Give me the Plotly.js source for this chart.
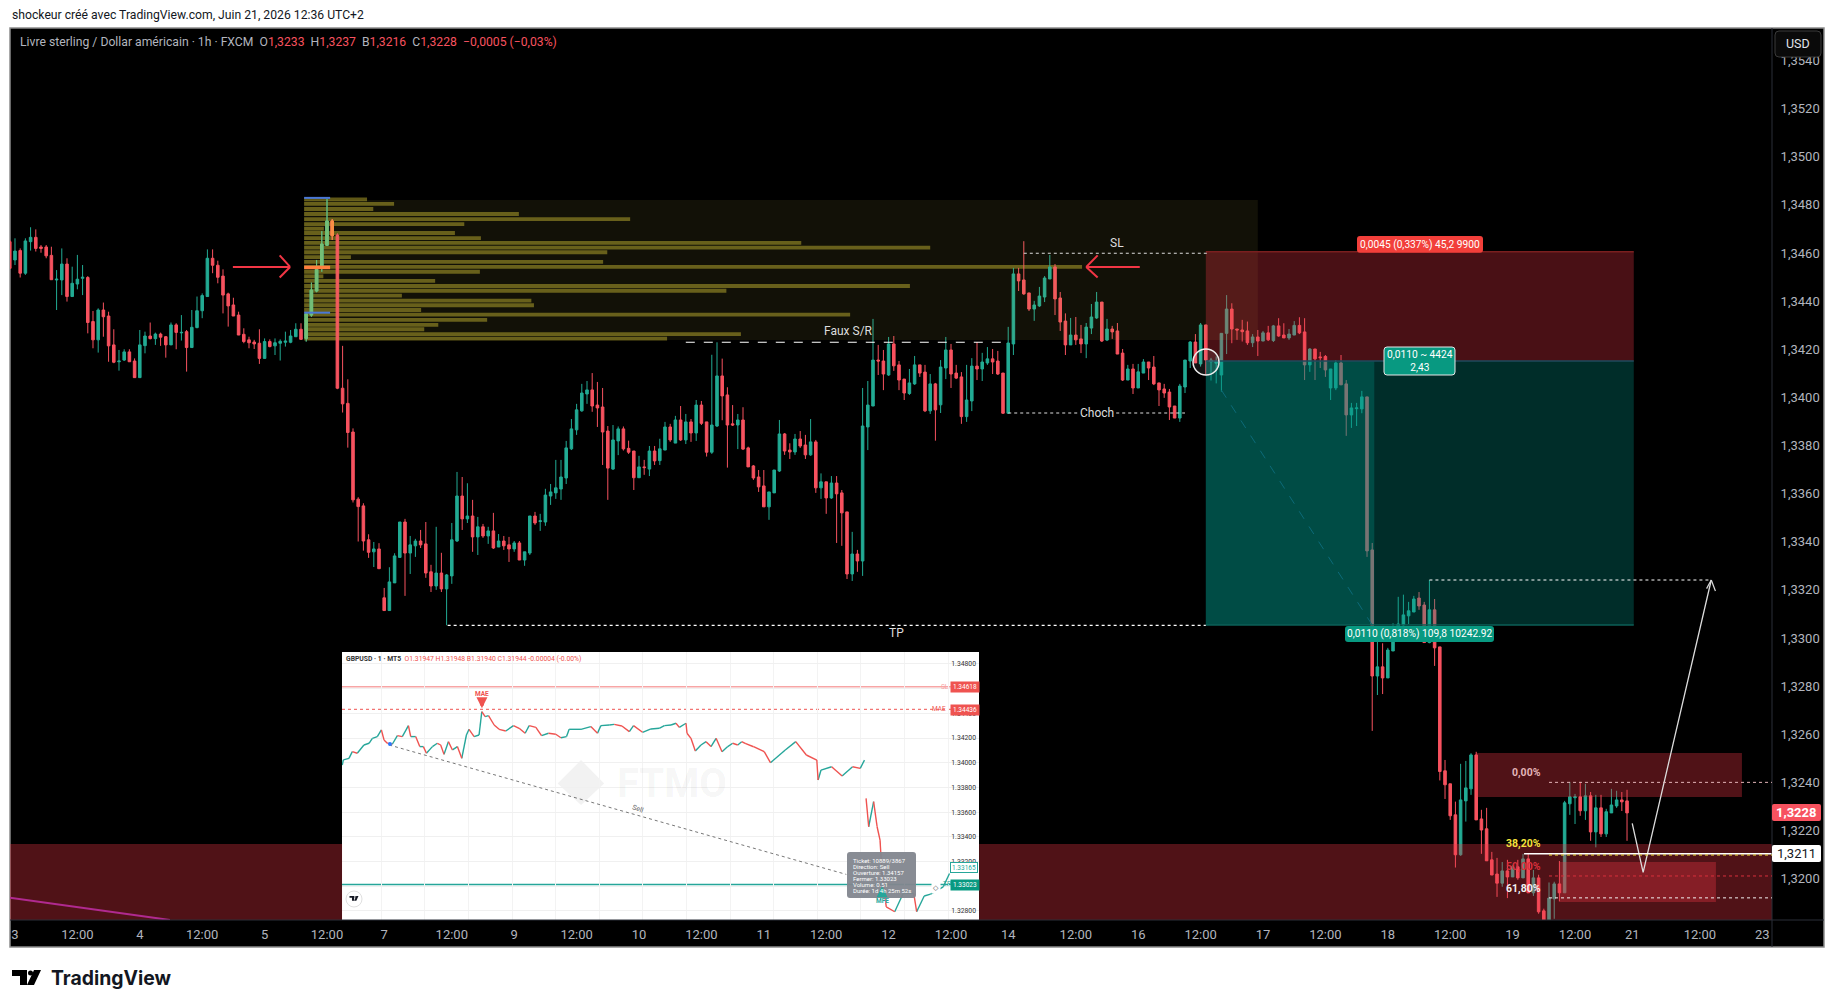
<!DOCTYPE html>
<html>
<head>
<meta charset="utf-8">
<script src="https://cdn.plot.ly/plotly-3.0.1.min.js"></script>
<style>html,body{margin:0;padding:0;background:#fff}</style>
</head>
<body>
<div id="chart" style="width:1835px;height:1008px"></div>
<script>
// GBP/USD 1h bars, [open, high, low, close]
const june3to5 = [
[1.34647,1.34654,1.34536,1.34536],[1.34571,1.34661,1.34550,1.34608],[1.34610,1.34619,1.34498,1.34516],[1.34516,1.34661,1.34509,1.34650],
[1.34647,1.34707,1.34610,1.34665],[1.34665,1.34698,1.34606,1.34619],[1.34625,1.34633,1.34601,1.34619],[1.34625,1.34633,1.34578,1.34588],
[1.34590,1.34626,1.34489,1.34489],[1.34488,1.34529,1.34363,1.34491],[1.34488,1.34619,1.34425,1.34554],[1.34554,1.34578,1.34398,1.34419],
[1.34419,1.34543,1.34419,1.34474],[1.34471,1.34592,1.34449,1.34491],[1.34495,1.34550,1.34425,1.34499],[1.34498,1.34504,1.34266,1.34311],
[1.34315,1.34359,1.34204,1.34239],[1.34239,1.34370,1.34186,1.34363],[1.34363,1.34394,1.34252,1.34335],[1.34338,1.34356,1.34148,1.34214],
[1.34218,1.34283,1.34142,1.34146],[1.34148,1.34197,1.34111,1.34151],[1.34155,1.34200,1.34151,1.34189],[1.34189,1.34200,1.34148,1.34148],
[1.34151,1.34162,1.34082,1.34082],[1.34082,1.34280,1.34082,1.34218],[1.34215,1.34273,1.34183,1.34255],[1.34255,1.34311,1.34241,1.34244],
[1.34244,1.34269,1.34218,1.34263],[1.34263,1.34269,1.34214,1.34250],[1.34252,1.34255,1.34165,1.34218],[1.34218,1.34311,1.34218,1.34301],
[1.34301,1.34308,1.34200,1.34270],[1.34268,1.34342,1.34236,1.34270],[1.34273,1.34280,1.34107,1.34207],[1.34207,1.34363,1.34207,1.34291],
[1.34290,1.34419,1.34287,1.34360],[1.34360,1.34432,1.34329,1.34423],[1.34419,1.34615,1.34419,1.34578],[1.34578,1.34615,1.34516,1.34549],
[1.34549,1.34568,1.34474,1.34499],[1.34504,1.34532,1.34349,1.34425],[1.34430,1.34435,1.34294,1.34380],[1.34384,1.34414,1.34338,1.34338],
[1.34342,1.34356,1.34259,1.34259],[1.34262,1.34287,1.34225,1.34232],[1.34239,1.34252,1.34204,1.34227],[1.34230,1.34239,1.34201,1.34222],
[1.34225,1.34283,1.34139,1.34162],[1.34162,1.34245,1.34162,1.34232],[1.34232,1.34241,1.34208,1.34211],[1.34214,1.34245,1.34176,1.34227],
[1.34225,1.34241,1.34153,1.34233],[1.34229,1.34273,1.34211,1.34234],[1.34229,1.34280,1.34225,1.34255],[1.34252,1.34308,1.34252,1.34283],
[1.34283,1.34308,1.34239,1.34241],[1.34245,1.34347,1.34232,1.34347],[1.34342,1.34477,1.34335,1.34446],[1.34442,1.34571,1.34437,1.34532],
[1.34543,1.34691,1.34522,1.34637],[1.34632,1.34824,1.34629,1.34733],[1.34733,1.34741,1.34654,1.34672],[1.34675,1.34682,1.34034,1.34038],
[1.34038,1.34214,1.33937,1.33973],[1.33975,1.34075,1.33791,1.33854],[1.33856,1.33871,1.33563,1.33574],[1.33577,1.33585,1.33401,1.33546],
[1.33549,1.33560,1.33363,1.33403],[1.33408,1.33431,1.33333,1.33356],[1.33358,1.33399,1.33295,1.33370],[1.33370,1.33394,1.33288,1.33288]
];
const june8to12 = [
[1.33167,1.33208,1.33114,1.33114],[1.33114,1.33294,1.33114,1.33233],[1.33229,1.33352,1.33229,1.33341],[1.33335,1.33482,1.33333,1.33482],
[1.33482,1.33495,1.33175,1.33353],[1.33353,1.33424,1.33266,1.33387],[1.33383,1.33412,1.33337,1.33403],[1.33403,1.33449,1.33374,1.33387],
[1.33391,1.33482,1.33250,1.33270],[1.33275,1.33304,1.33191,1.33216],[1.33216,1.33462,1.33200,1.33270],[1.33270,1.33354,1.33191,1.33204],
[1.33204,1.33266,1.33053,1.33262],[1.33258,1.33478,1.33225,1.33408],[1.33403,1.33690,1.33399,1.33590],[1.33590,1.33669,1.33449,1.33495],
[1.33495,1.33643,1.33478,1.33507],[1.33507,1.33574,1.33358,1.33420],[1.33420,1.33503,1.33345,1.33462],[1.33462,1.33474,1.33416,1.33424],
[1.33424,1.33462,1.33391,1.33445],[1.33445,1.33520,1.33370,1.33374],[1.33378,1.33432,1.33378,1.33403],[1.33403,1.33424,1.33366,1.33383],
[1.33387,1.33420,1.33316,1.33370],[1.33370,1.33403,1.33358,1.33395],[1.33395,1.33403,1.33324,1.33324],[1.33324,1.33358,1.33300,1.33358],
[1.33353,1.33507,1.33345,1.33507],[1.33507,1.33524,1.33470,1.33478],[1.33484,1.33516,1.33445,1.33487],[1.33482,1.33620,1.33466,1.33594],
[1.33590,1.33640,1.33553,1.33607],[1.33603,1.33740,1.33578,1.33624],[1.33619,1.33740,1.33574,1.33669],[1.33665,1.33819,1.33640,1.33790],
[1.33786,1.33910,1.33781,1.33869],[1.33865,1.33973,1.33844,1.33948],[1.33944,1.34056,1.33940,1.34018],[1.34014,1.34068,1.33973,1.34031],
[1.34031,1.34101,1.33940,1.33964],[1.33968,1.34064,1.33877,1.33956],[1.33960,1.34039,1.33719,1.33856],[1.33860,1.33881,1.33574,1.33706],
[1.33702,1.33885,1.33698,1.33823],[1.33819,1.33879,1.33760,1.33869],[1.33869,1.33879,1.33779,1.33786],[1.33788,1.33820,1.33765,1.33772],
[1.33777,1.33777,1.33615,1.33666],[1.33666,1.33757,1.33666,1.33711],[1.33711,1.33740,1.33678,1.33708],[1.33702,1.33798,1.33673,1.33777],
[1.33777,1.33798,1.33719,1.33736],[1.33737,1.33828,1.33719,1.33786],[1.33781,1.33898,1.33781,1.33877],[1.33877,1.33890,1.33815,1.33823],
[1.33810,1.33923,1.33810,1.33906],[1.33906,1.33964,1.33819,1.33823],[1.33823,1.33931,1.33806,1.33898],[1.33898,1.33910,1.33815,1.33852],
[1.33852,1.33989,1.33819,1.33968],[1.33968,1.33985,1.33885,1.33892],[1.33898,1.33898,1.33754,1.33772],[1.33772,1.34177,1.33765,1.33885],
[1.33881,1.34229,1.33877,1.34089],[1.34089,1.34161,1.33905,1.34006],[1.34010,1.34042,1.33708,1.33885],[1.33890,1.33968,1.33881,1.33885],
[1.33885,1.33931,1.33785,1.33906],[1.33906,1.33959,1.33781,1.33785],[1.33790,1.33795,1.33711,1.33711],[1.33715,1.33719,1.33657,1.33665],
[1.33669,1.33698,1.33607,1.33628],[1.33632,1.33698,1.33545,1.33545],[1.33545,1.33607,1.33491,1.33607],[1.33603,1.33698,1.33603,1.33698],
[1.33694,1.33906,1.33690,1.33848],[1.33848,1.33852,1.33761,1.33777],[1.33781,1.33809,1.33744,1.33773],[1.33773,1.33848,1.33761,1.33827],
[1.33827,1.33860,1.33790,1.33798],[1.33802,1.33844,1.33744,1.33761],[1.33761,1.33910,1.33757,1.33815],[1.33815,1.33823,1.33603,1.33624],
[1.33624,1.33684,1.33578,1.33649],[1.33649,1.33649,1.33516,1.33582],[1.33582,1.33673,1.33578,1.33644],[1.33644,1.33673,1.33395,1.33599],
[1.33603,1.33615,1.33383,1.33520],[1.33524,1.33524,1.33245,1.33266],[1.33266,1.33441,1.33237,1.33349],[1.33349,1.33366,1.33275,1.33320],
[1.33320,1.34039,1.33258,1.33881],[1.33877,1.34068,1.33781,1.33968],[1.33964,1.34326,1.33964,1.34155],[1.34155,1.34218,1.34093,1.34151],
[1.34151,1.34197,1.34030,1.34097],[1.34093,1.34251,1.34089,1.34222],[1.34222,1.34255,1.34110,1.34131],[1.34135,1.34151,1.34030,1.34072],
[1.34076,1.34076,1.33989,1.34018],[1.34016,1.34118,1.34010,1.34060],[1.34056,1.34172,1.34052,1.34135],[1.34135,1.34135,1.34085,1.34101],
[1.34105,1.34135,1.33939,1.33944],[1.33944,1.34097,1.33931,1.34056],[1.34056,1.34060,1.33820,1.33948],[1.33969,1.34155,1.33935,1.34126],
[1.34122,1.34251,1.34076,1.34197],[1.34197,1.34222,1.34039,1.34097],[1.34101,1.34135,1.34076,1.34080],[1.34085,1.34105,1.33890,1.33920],
[1.33920,1.34135,1.33898,1.33989],[1.33985,1.34163,1.33943,1.34130],[1.34130,1.34230,1.34072,1.34118],[1.34118,1.34185,1.34068,1.34147],
[1.34143,1.34209,1.34135,1.34160],[1.34160,1.34201,1.34097,1.34147],[1.34151,1.34193,1.34093,1.34097],[1.34101,1.34101,1.33931,1.33934]
];
const june15to19 = [
[1.33934,1.34293,1.33931,1.34226],[1.34222,1.34538,1.34176,1.34513],[1.34513,1.34538,1.34442,1.34484],[1.34488,1.34649,1.34426,1.34430],
[1.34434,1.34434,1.34359,1.34367],[1.34367,1.34401,1.34318,1.34384],[1.34380,1.34459,1.34376,1.34421],[1.34417,1.34504,1.34396,1.34496],
[1.34492,1.34592,1.34492,1.34542],[1.34542,1.34554,1.34342,1.34409],[1.34413,1.34438,1.34276,1.34313],[1.34317,1.34349,1.34176,1.34218],
[1.34218,1.34330,1.34218,1.34259],[1.34259,1.34334,1.34218,1.34239],[1.34243,1.34301,1.34184,1.34222],[1.34222,1.34309,1.34163,1.34292],
[1.34288,1.34388,1.34263,1.34334],[1.34330,1.34438,1.34326,1.34396],[1.34396,1.34396,1.34230,1.34234],[1.34238,1.34326,1.34234,1.34284],
[1.34284,1.34297,1.34243,1.34272],[1.34276,1.34309,1.34180,1.34180],[1.34184,1.34201,1.34068,1.34072],[1.34072,1.34135,1.34072,1.34118],
[1.34118,1.34139,1.34014,1.34039],[1.34039,1.34139,1.34039,1.34106],[1.34101,1.34159,1.34101,1.34147],[1.34147,1.34147,1.34072,1.34122],
[1.34126,1.34172,1.34051,1.34056],[1.34060,1.34060,1.33964,1.34031],[1.34035,1.34056,1.33998,1.34018],[1.34022,1.34035,1.33906,1.33960],
[1.33964,1.33964,1.33914,1.33914],[1.33914,1.34056,1.33898,1.34047],[1.34043,1.34155,1.34018,1.34155],[1.34151,1.34234,1.34122,1.34230],
[1.34230,1.34263,1.34143,1.34143],[1.34139,1.34309,1.34128,1.34301],[1.34301,1.34301,1.34093,1.34155],[1.34148,1.34164,1.34070,1.34155],
[1.34142,1.34170,1.34058,1.34149],[1.34093,1.34266,1.34024,1.34266],[1.34266,1.34425,1.34180,1.34367],[1.34367,1.34391,1.34225,1.34284],
[1.34284,1.34284,1.34239,1.34280],[1.34280,1.34322,1.34232,1.34273],[1.34276,1.34315,1.34218,1.34227],[1.34227,1.34263,1.34209,1.34251],
[1.34251,1.34280,1.34172,1.34234],[1.34234,1.34276,1.34234,1.34268],[1.34268,1.34297,1.34234,1.34239],[1.34236,1.34301,1.34230,1.34297],
[1.34297,1.34329,1.34252,1.34255],[1.34259,1.34308,1.34247,1.34247],[1.34247,1.34284,1.34239,1.34263],[1.34259,1.34317,1.34259,1.34299],
[1.34299,1.34333,1.34263,1.34268],[1.34272,1.34329,1.34072,1.34135],[1.34135,1.34204,1.34106,1.34201],[1.34201,1.34201,1.34072,1.34160],
[1.34168,1.34189,1.34122,1.34165],[1.34170,1.34176,1.34085,1.34114],[1.34039,1.34118,1.33989,1.34118],[1.34039,1.34155,1.34030,1.34143],
[1.34143,1.34176,1.34052,1.34052],[1.34056,1.34072,1.33840,1.33927],[1.33927,1.33977,1.33873,1.33956],[1.33953,1.33977,1.33881,1.33956],
[1.33952,1.34027,1.33934,1.34002],[1.34002,1.34002,1.33337,1.33362],[1.33366,1.33395,1.32614,1.32842],[1.32842,1.33047,1.32763,1.32880],
[1.32880,1.32978,1.32767,1.32834],[1.32834,1.32959,1.32834,1.32950],[1.32946,1.33061,1.32946,1.33020],[1.33020,1.33171,1.33013,1.33058],
[1.33054,1.33180,1.33047,1.33096],[1.33092,1.33150,1.33058,1.33113],[1.33108,1.33175,1.33108,1.33162],[1.33166,1.33191,1.33117,1.33133],
[1.33137,1.33150,1.32981,1.32981],[1.32981,1.33241,1.32978,1.33117],[1.33117,1.33162,1.32884,1.32959],[1.32963,1.32963,1.32408,1.32445],
[1.32448,1.32493,1.32331,1.32390],[1.32394,1.32394,1.32244,1.32261],[1.32265,1.32320,1.32046,1.32099],[1.32099,1.32477,1.32095,1.32327],
[1.32323,1.32489,1.32237,1.32377],[1.32373,1.32521,1.32348,1.32514],[1.32514,1.32527,1.32244,1.32244],[1.32248,1.32286,1.32103,1.32202],
[1.32207,1.32294,1.32074,1.32074],[1.32078,1.32111,1.32015,1.32015],[1.32019,1.32086,1.31924,1.31981],[1.31981,1.32069,1.31966,1.32032],
[1.32032,1.32078,1.31919,1.32007],[1.32007,1.32057,1.32007,1.32049],[1.32049,1.32078,1.31995,1.32003],[1.32003,1.32103,1.32003,1.32082],
[1.32082,1.32103,1.31941,1.31941],[1.31941,1.32036,1.31928,1.32003],[1.32003,1.32016,1.31854,1.31862],[1.31866,1.31875,1.31788,1.31788],
[1.31788,1.31984,1.31788,1.31919],[1.31916,1.31987,1.31833,1.31978],[1.31978,1.32073,1.31905,1.31941],[1.31941,1.32323,1.31941,1.32315],
[1.32311,1.32402,1.32265,1.32340],[1.32336,1.32352,1.32227,1.32340],[1.32340,1.32402,1.32261,1.32282],[1.32282,1.32394,1.32244,1.32344],
[1.32344,1.32360,1.32157,1.32194],[1.32194,1.32348,1.32130,1.32294],[1.32294,1.32348,1.32173,1.32186],[1.32186,1.32290,1.32173,1.32278],
[1.32273,1.32373,1.32273,1.32306],[1.32302,1.32365,1.32294,1.32327],[1.32327,1.32360,1.32281,1.32319],[1.32323,1.32369,1.32157,1.32273]
];

// bar number of each date label on the time axis
const timeTickBars = [0,12,24,36,48,60,71,84,96,108,120,132,144,156,168,180,191,204,216,228,240,252,264,276,288,300,311,324,336];
const timeTickLabels = ['3','12:00','4','12:00','5','12:00','7','12:00','9','12:00','10','12:00','11','12:00','12','12:00','14','12:00','16','12:00','17','12:00','18','12:00','19','12:00','21','12:00','23'];

// volume profile rows
const profilePrices = [1.34823,1.34804,1.34783,1.34762,1.34741,1.34720,1.34701,1.34683,1.34662,1.34642,1.34622,1.34603,1.34583,1.34563,1.34542,1.34522,1.34503,1.34484,1.34463,1.34443,1.34423,1.34402,1.34383,1.34363,1.34344,1.34322,1.34301,1.34283,1.34263,1.34244];
const profileVolumes = [12.1,17.3,13.3,41.3,62.7,30.8,3.8,29,34,95.6,120.4,58.3,9,57.5,149.6,33.8,3.7,25.2,116.5,81.2,18.8,43.7,44.2,22.5,105,35.2,25.8,23.1,84,69.8];

// price levels of the drawings
const slPrice = 1.34605, entryPrice = 1.34151, tpPrice = 1.33054;
const fibLevels = [1.3240, 1.32098, 1.32011, 1.3192];
const fibLabels = ['0,00%','38,20%','50,00%','61,80%'];
const fibLabelPrices = [1.32443, 1.32148, 1.32052, 1.31961];
const fibColors = ['#e3b4b8','#f5e23c','#d8303c','#f2f2f2'];
const forecastBars = [311, 313.1, 326.2];
const forecastPrices = [1.3223, 1.32026, 1.33241];

// inset: MT5 trade screenshot, hours from June 17 00:00 and price
const insetHours = [-14.68,-14.61,-14.22,-13.99,-13.65,-13.19,-12.84,-12.61,-12.27,-11.99,-11.81,-11.58,-11.24,-10.89,-10.55,-10.13,-9.97,-9.63,-9.35,-9.1,-8.89,-8.48,-8.14,-7.91,-7.68,-7.38,-7.1,-6.76,-6.46,-6.14,-5.96,-5.61,-5.27,-5.08,-4.85,-4.62,-4.23,-3.89,-3.43,-2.9,-2.51,-2.1,-1.82,-1.36,-0.97,-0.49,0.01,0.36,0.75,0.93,1.74,2.42,2.88,3.11,3.69,4.03,4.56,5.07,5.36,5.98,6.56,7.13,7.48,7.94,8.28,8.51,8.97,9.04,9.31,9.61,10,10.35,10.69,11.04,11.45,11.84,12.18,12.53,12.8,13.04,13.62,14.35,14.78,15.8,16.52,17.25,17.97,18.06,18.26,18.99,19.71,20.43,20.96,21.25,null,21.36,21.54,21.88,22.12,22.32,22.46,22.75,23.33,23.91,24.64,24.84,25.36,25.8,26.67,27.1];
const insetPrices = [1.33982,1.34023,1.34036,1.3409,1.34077,1.34144,1.34158,1.34198,1.34212,1.34266,1.34185,1.34158,1.3415,1.3422,1.34212,1.34301,1.34212,1.34212,1.34131,1.34131,1.34077,1.34131,1.34158,1.34144,1.34068,1.34171,1.34104,1.34131,1.34036,1.34225,1.34271,1.34212,1.34225,1.34414,1.34374,1.34382,1.34306,1.34271,1.34257,1.34301,1.34279,1.34239,1.34301,1.34287,1.3422,1.34239,1.34231,1.34203,1.34212,1.34271,1.34271,1.34293,1.34239,1.34301,1.34306,1.34311,1.34298,1.34252,1.34301,1.34247,1.34274,1.34279,1.34301,1.34306,1.3432,1.34287,1.3432,1.34239,1.34198,1.34095,1.34144,1.34171,1.34131,1.34198,1.3409,1.34131,1.34158,1.34144,1.34171,1.34157,1.3413,1.3409,1.34001,1.34103,1.34171,1.34063,1.34022,1.3386,1.33941,1.33968,1.33893,1.33968,1.33955,1.34022,null,1.33712,1.33482,1.33685,1.33482,1.33374,1.33104,1.32834,1.32794,1.32942,1.32942,1.32794,1.32921,1.32937,1.32996,1.33104];
const insetTickPrices = [1.328,1.33,1.332,1.334,1.336,1.338,1.34,1.342,1.344,1.346,1.348];
const insetTickLabels = insetTickPrices.map(p => p.toFixed(5));
const tradeTooltip = ['Ticket: 10889/3867','Direction: Sell','Ouverture: 1.34157','Fermer: 1.33023','Volume: 0.51','Durée: 1d 4h 25m 52s'];

const GREEN = '#22ab94', RED = '#f7525f', AXIS_TEXT = '#b2b5be';
const W = 1835, H = 1008;
const FONT = 'Roboto, "Open Sans", sans-serif';
const X_RANGE = [-0.96, 337.88], Y_RANGE = [1.31828, 1.35535];
const INSET_X = [-14.7, 29.13], INSET_Y = [1.32727, 1.34897];

const bars = june3to5.concat(june8to12, june15to19);
const barNumbers = bars.map((b, i) => i - 1);
const opens = bars.map(b => b[0]), highs = bars.map(b => b[1]), lows = bars.map(b => b[2]), closes = bars.map(b => b[3]);

// pixel to paper helpers
const px = v => v / W;
const py = v => 1 - v / H;

function rect(x0, x1, y0, y1, fill, layer) {
    return {type:'rect', xref:'x', yref:'y', x0, x1, y0, y1, fillcolor:fill, line:{width:0}, layer:layer || 'above'};
}
function seg(x0, y0, x1, y1, color, width, dash, layer) {
    return {type:'line', xref:'x', yref:'y', x0, y0, x1, y1, line:{color, width, dash:dash || 'solid'}, layer:layer || 'above'};
}
function inset(shape) { return Object.assign(shape, {xref:'x2', yref:'y2'}); }
// rounded label box in page pixels
function roundBox(x0, y0, x1, y1, r, fill, border) {
    const P = (a, b) => px(a) + ',' + py(b);
    return {type:'path', xref:'paper', yref:'paper', layer:'above', fillcolor:fill,
            line:border ? {color:border, width:1} : {width:0},
            path:'M' + P(x0 + r, y0) + ' L' + P(x1 - r, y0) + ' Q' + P(x1, y0) + ' ' + P(x1, y0 + r) +
                 ' L' + P(x1, y1 - r) + ' Q' + P(x1, y1) + ' ' + P(x1 - r, y1) +
                 ' L' + P(x0 + r, y1) + ' Q' + P(x0, y1) + ' ' + P(x0, y1 - r) +
                 ' L' + P(x0, y0 + r) + ' Q' + P(x0, y0) + ' ' + P(x0 + r, y0) + ' Z'};
}
function note(text, x, y, color, size, extra) {
    return Object.assign({text, x, y, xref:'x', yref:'y', yanchor:'middle', showarrow:false, font:{family:FONT, color, size}}, extra || {});
}
function pageNote(text, x, y, color, size, extra) {
    return note(text, px(x), py(y), color, size, Object.assign({xref:'paper', yref:'paper', xanchor:'left'}, extra || {}));
}
function insetNote(text, x, y, color, size, extra) {
    return note(text, x, y, color, size, Object.assign({xref:'x2', yref:'y2'}, extra || {}));
}
// TradingView mark, x/y = top-left, k = scale
function logo(x, y, k, color) {
    const P = (a, b) => px(x + a * k) + ',' + py(y + b * k);
    return [
        {type:'path', xref:'paper', yref:'paper', fillcolor:color, line:{width:0}, layer:'above',
         path:'M' + P(0,0) + 'L' + P(15,0) + 'L' + P(15,15) + 'L' + P(8,15) + 'L' + P(8,6) + 'L' + P(0,6) + 'Z'},
        {type:'path', xref:'paper', yref:'paper', fillcolor:color, line:{width:0}, layer:'above',
         path:'M' + P(22,0) + 'L' + P(29,0) + 'L' + P(22,15) + 'L' + P(15,15) + 'Z'},
        {type:'circle', xref:'paper', yref:'paper', fillcolor:color, line:{width:0}, layer:'above',
         x0:px(x + 16*k), x1:px(x + 21*k), y0:py(y + 5.5*k), y1:py(y + 0.5*k)}
    ];
}

// inset price line, split in rising and falling pieces
const insetUpX = [], insetUpY = [], insetDownX = [], insetDownY = [];
for (let i = 1; i < insetHours.length; i++) {
    if (insetHours[i] === null || insetHours[i-1] === null) continue;
    const up = insetPrices[i] >= insetPrices[i-1];
    (up ? insetUpX : insetDownX).push(insetHours[i-1], insetHours[i], null);
    (up ? insetUpY : insetDownY).push(insetPrices[i-1], insetPrices[i], null);
}

const candleStyle = (up, down) => ({
    increasing:{line:{color:up, width:1}, fillcolor:up},
    decreasing:{line:{color:down, width:1}, fillcolor:down},
    whiskerwidth:0, hoverinfo:'skip', showlegend:false
});

const traces = [
    {type:'bar', orientation:'h', y:profilePrices, x:profileVolumes, base:55.6, width:0.00016,
     marker:{color:'#5f5716', line:{width:0}}, hoverinfo:'skip', showlegend:false},
    Object.assign({type:'candlestick', x:barNumbers, open:opens, high:highs, low:lows, close:closes}, candleStyle(GREEN, RED)),
    // bars inside the session volume profile look washed
    Object.assign({type:'candlestick', x:barNumbers.slice(57,63), open:opens.slice(57,63), high:highs.slice(57,63), low:lows.slice(57,63), close:closes.slice(57,63)}, candleStyle('#6cc07c','#ff8a45')),
    {type:'scatter', mode:'lines', xaxis:'x2', yaxis:'y2', x:insetUpX, y:insetUpY, line:{color:'#26a69a', width:1.4}, hoverinfo:'skip', showlegend:false},
    {type:'scatter', mode:'lines', xaxis:'x2', yaxis:'y2', x:insetDownX, y:insetDownY, line:{color:'#ef5350', width:1.4}, hoverinfo:'skip', showlegend:false},
    {type:'scatter', mode:'lines', xaxis:'x2', yaxis:'y2', x:[-11.45,20], y:[1.34144,1.33096], line:{color:'#777', width:1, dash:'dot'}, hoverinfo:'skip', showlegend:false},
    {type:'scatter', mode:'markers', xaxis:'x2', yaxis:'y2', x:[-11.4], y:[1.34152], marker:{color:'#2979ff', size:4}, hoverinfo:'skip', showlegend:false}
];

const shapes = [
    // chart panel
    {type:'rect', xref:'paper', yref:'paper', x0:px(10), x1:px(1824), y0:py(947), y1:py(28), fillcolor:'#000', line:{color:'#8c8c8c', width:1.5}, layer:'below'},
    // inset background and its watermark
    inset({type:'rect', x0:INSET_X[0], x1:INSET_X[1], y0:INSET_Y[0], y1:INSET_Y[1], fillcolor:'#fff', line:{width:0}, layer:'below'}),
    inset({type:'path', path:'M0.14,1.33833 L1.75,1.34022 L3.33,1.33833 L1.75,1.33658 Z', fillcolor:'#f2f2f2', line:{width:0}, layer:'below'}),
    inset({type:'line', x0:INSET_X[0], x1:27.5, y0:1.34616, y1:1.34616, line:{color:'#f7a5a5', width:1.5}, layer:'below'}),
    inset({type:'line', x0:INSET_X[0], x1:27.5, y0:1.34433, y1:1.34433, line:{color:'#ef5350', width:1, dash:'dot'}, layer:'below'}),
    inset({type:'line', x0:INSET_X[0], x1:27.5, y0:1.33015, y1:1.33015, line:{color:'#26a69a', width:1.5}, layer:'below'}),
    // volume profile box
    rect(55.6, 239, 1.34238, 1.3482, 'rgba(205,190,80,0.09)'),
    seg(55.6, 1.34829, 60.6, 1.34829, '#4a78d8', 2),
    seg(55.6, 1.34352, 60.6, 1.34352, '#4a78d8', 2),
    seg(55.6, 1.3454, 60.6, 1.3454, '#ff7f3f', 3.5),
    // short position tool
    rect(229, 311.3, entryPrice, slPrice, 'rgba(242,54,69,0.3)'),
    rect(229, 311.3, tpPrice, entryPrice, 'rgba(0,150,136,0.3)'),
    rect(229, 261.4, tpPrice, entryPrice, 'rgba(0,150,136,0.3)'),
    seg(229, slPrice, 311.3, slPrice, '#7a1f1f', 1.5),
    seg(229, entryPrice, 311.3, entryPrice, '#1f4a5c', 1.5),
    seg(229, tpPrice, 311.3, tpPrice, '#0b5f57', 1.5),
    seg(232, 1.3403, 261, tpPrice, '#0c6a78', 1, 'dash'),
    // demand band, cut by the inset
    rect(X_RANGE[0], 62.9, Y_RANGE[0], 1.32144, 'rgba(242,54,69,0.33)'),
    rect(185.4, X_RANGE[1], Y_RANGE[0], 1.32144, 'rgba(242,54,69,0.33)'),
    rect(281, 332.1, 1.32339, 1.32522, 'rgba(242,54,69,0.33)'),
    rect(297.1, 327.1, 1.31903, 1.32069, 'rgba(242,54,69,0.33)'),
    seg(X_RANGE[0], 1.3192, 29.8, Y_RANGE[0], '#b02a90', 2),
    // structure lines
    seg(129, 1.34229, 191, 1.34229, '#fff', 1.2, 'dash'),
    seg(194, 1.34599, 229.6, 1.34599, '#ddd', 1.2, 'dot'),
    seg(191, 1.33935, 225, 1.33935, '#ddd', 1.2, 'dot'),
    seg(83.2, 1.33052, 229, 1.33052, '#fff', 1.2, 'dot'),
    seg(272, 1.33241, 326, 1.33241, '#fff', 1.2, 'dot'),
    // red arrows
    seg(41.9, 1.34542, 52.9, 1.34542, '#f23645', 2),
    seg(50.9, 1.3459, 52.9, 1.34542, '#f23645', 2),
    seg(50.9, 1.34498, 52.9, 1.34542, '#f23645', 2),
    seg(206, 1.34542, 216.3, 1.34542, '#f23645', 2),
    seg(208.2, 1.3459, 206, 1.34542, '#f23645', 2),
    seg(208.2, 1.34498, 206, 1.34542, '#f23645', 2),
    // entry circle
    {type:'circle', xref:'paper', yref:'paper', x0:px(1193), x1:px(1219), y0:py(375), y1:py(349), fillcolor:'rgba(255,255,255,0.08)', line:{color:'#eee', width:1.5}, layer:'above'},
    // forecast path with arrow head
    {type:'path', xref:'x', yref:'y', layer:'above', line:{color:'#dcdcdc', width:1.3},
     path:'M' + forecastBars.map((b, i) => b + ',' + forecastPrices[i]).join(' L')},
    seg(325.3, 1.33205, 326.2, 1.33241, '#dcdcdc', 1.2),
    seg(327, 1.33195, 326.2, 1.33241, '#dcdcdc', 1.2),
    seg(290.2, 1.32103, X_RANGE[1], 1.32103, '#fff', 1.5),
    // axis separators
    {type:'line', xref:'paper', yref:'paper', x0:px(1772), x1:px(1772), y0:py(947), y1:py(28), line:{color:'#2a2e39', width:1}, layer:'above'},
    {type:'line', xref:'paper', yref:'paper', x0:px(10), x1:px(1824), y0:py(920), y1:py(920), line:{color:'#2a2e39', width:1}, layer:'above'},
    // small round TV badge of the inset
    {type:'circle', xref:'paper', yref:'paper', x0:px(346), x1:px(362), y0:py(907), y1:py(891), fillcolor:'#fff', line:{color:'#e0e0e0', width:1}, layer:'above'},
    // label boxes
    roundBox(1775, 31, 1821, 57, 4, '#0a0a0a', '#3a3a3a'),
    roundBox(1357, 236, 1483, 252.7, 3, '#f23f3a'),
    roundBox(1384, 347, 1455, 375, 3, '#089981', '#e6e6e6'),
    roundBox(1345, 626, 1494, 642, 3, '#089981'),
    roundBox(1772, 804, 1821, 821, 2, '#f7525f'),
    roundBox(1772, 845, 1821, 862, 2, '#fff'),
    roundBox(847, 852, 916, 898, 3, 'rgba(130,134,142,0.95)')
];

// fib levels
fibLevels.forEach((p, i) => {
    shapes.push(seg(295, p, X_RANGE[1], p, fibColors[i], 1, 'dot'));
});
shapes.push(...logo(349.5, 896, 0.31, '#131722'));
shapes.push(...logo(12, 970, 1, '#000'));

const annotations = [
    pageNote('shockeur créé avec TradingView.com, Juin 21, 2026 12:36 UTC+2', 10, 15, '#131722', 12.2),
    pageNote('Livre sterling / Dollar américain · 1h · FXCM&nbsp;&nbsp;O<span style="color:#f7525f">1,3233</span>&nbsp;&nbsp;H<span style="color:#f7525f">1,3237</span>&nbsp;&nbsp;B<span style="color:#f7525f">1,3216</span>&nbsp;&nbsp;C<span style="color:#f7525f">1,3228</span>&nbsp;&nbsp;<span style="color:#f7525f">−0,0005 (−0,03%)</span>', 18, 42, AXIS_TEXT, 12.2),
    pageNote('<b>TradingView</b>', 49, 978, '#131722', 19.4, {font:{family:'Inter, Roboto, sans-serif', color:'#131722', size:19.4}}),
    pageNote('USD', 1798, 44, '#e0e3eb', 12.5, {xanchor:'center'}),
    note('Faux S/R', 160.2, 1.34275, '#ddd', 12),
    note('SL', 211.9, 1.3464, '#ddd', 12),
    note('Choch', 208, 1.33935, '#ddd', 12, {bgcolor:'#000'}),
    note('TP', 169.5, 1.33019, '#ddd', 12),
    pageNote('0,0045 (0,337%) 45,2 9900', 1420, 244.5, '#fff', 10.2, {xanchor:'center'}),
    pageNote('0,0110 ~ 4424<br>2,43', 1419.5, 361, '#fff', 10.2, {xanchor:'center'}),
    pageNote('0,0110 (0,818%) 109,8 10242.92', 1419.5, 634, '#fff', 10.2, {xanchor:'center'}),
    pageNote('<b>1,3228</b>', 1796.5, 812.5, '#fff', 13, {xanchor:'center'}),
    pageNote('1,3211', 1796.5, 853.5, '#131722', 13, {xanchor:'center'}),
    // inset texts
    pageNote('<b>GBPUSD · 1 · MT5</b>&nbsp;&nbsp;<span style="color:#ef5350">O1.31947 H1.31948 B1.31940 C1.31944 -0.00004 (-0.00%)</span>', 344, 659, '#333', 6.8),
    insetNote('<b>FTMO</b>', 8, 1.33833, 'rgba(0,0,0,0.055)', 40),
    insetNote('Sell', 5.65, 1.33623, '#666', 7, {textangle:20}),
    insetNote('<b>MAE</b>', -5.07, 1.34557, '#ef5350', 6.5),
    {x:-5.07, y:1.34441, xref:'x2', yref:'y2', ax:0, ay:-11, axref:'pixel', ayref:'pixel', showarrow:true, text:'', arrowhead:2, arrowsize:0.55, arrowwidth:4, arrowcolor:'#ef5350'},
    insetNote('SL', 26.8, 1.34616, '#f7a5a5', 6.5),
    insetNote('MAE', 26.4, 1.34433, '#ef5350', 6.5),
    insetNote('TP', 26.9, 1.33015, '#26a69a', 6.5),
    pageNote('1.34618', 949.5, 687, '#fff', 6.5, {bgcolor:'#ef5350', width:28, height:10, borderpad:0}),
    pageNote('1.34436', 949.5, 709.5, '#fff', 6.5, {bgcolor:'#ef5350', width:28, height:10, borderpad:0}),
    pageNote('1.33165', 949.5, 867, '#26a69a', 6.5, {bgcolor:'#fff', bordercolor:'#26a69a', borderwidth:1, width:26, height:9, borderpad:0}),
    pageNote('1.33023', 949.5, 884.5, '#fff', 6.5, {bgcolor:'#089981', width:28, height:10, borderpad:0}),
    {x:22.46, y:1.33, xref:'x2', yref:'y2', ax:0, ay:11, axref:'pixel', ayref:'pixel', showarrow:true, text:'', arrowhead:2, arrowsize:0.55, arrowwidth:4, arrowcolor:'#26a69a'},
    insetNote('<b>MFE</b>', 22.46, 1.32883, '#26a69a', 6.5),
    insetNote('◇', 26.2, 1.32985, '#555', 7, {bgcolor:'#fff'})
];
tradeTooltip.forEach((t, i) => {
    annotations.push(pageNote(t, 851, 860 + i * 6.1, '#fff', 6));
});
fibLabels.forEach((t, i) => {
    annotations.push(note('<b>' + t + '</b>', 293.8, fibLabelPrices[i], fibColors[i], 10.5, {xanchor:'right'}));
});

const layout = {
    width:W, height:H, autosize:false,
    margin:{l:0, r:0, t:0, b:0},
    paper_bgcolor:'#fff', plot_bgcolor:'rgba(0,0,0,0)',
    separators:', ',
    font:{family:FONT},
    showlegend:false, dragmode:false, boxgap:0.3,
    xaxis:{domain:[px(10), px(1772)], range:X_RANGE, anchor:'y', showgrid:false, zeroline:false, showline:false,
           rangeslider:{visible:false}, tickmode:'array', tickvals:timeTickBars, ticktext:timeTickLabels,
           ticks:'outside', ticklen:2, tickcolor:'rgba(0,0,0,0)', tickfont:{color:AXIS_TEXT, size:13, family:FONT}},
    yaxis:{domain:[py(920), py(28)], range:Y_RANGE, anchor:'x', side:'right', showgrid:false, zeroline:false, showline:false,
           tick0:1.32, dtick:0.002, tickformat:'.4f', ticks:'outside', ticklen:5, tickcolor:'rgba(0,0,0,0)',
           tickfont:{color:AXIS_TEXT, size:13, family:FONT}},
    xaxis2:{domain:[px(342), px(979)], range:INSET_X, anchor:'y2', tick0:-12, dtick:3, showticklabels:false, ticks:'',
            showgrid:true, gridcolor:'#f3f3f3', zeroline:false, showline:false},
    yaxis2:{domain:[py(920), py(652)], range:INSET_Y, anchor:'x2', side:'right', ticklabelposition:'inside',
            tickmode:'array', tickvals:insetTickPrices, ticktext:insetTickLabels, ticks:'',
            tickfont:{color:'#333', size:6.8, family:FONT}, showgrid:true, gridcolor:'#f0f0f0', zeroline:false, showline:false},
    shapes, annotations
};

Plotly.newPlot('chart', traces, layout, {displayModeBar:false, staticPlot:true});
</script>
</body>
</html>
